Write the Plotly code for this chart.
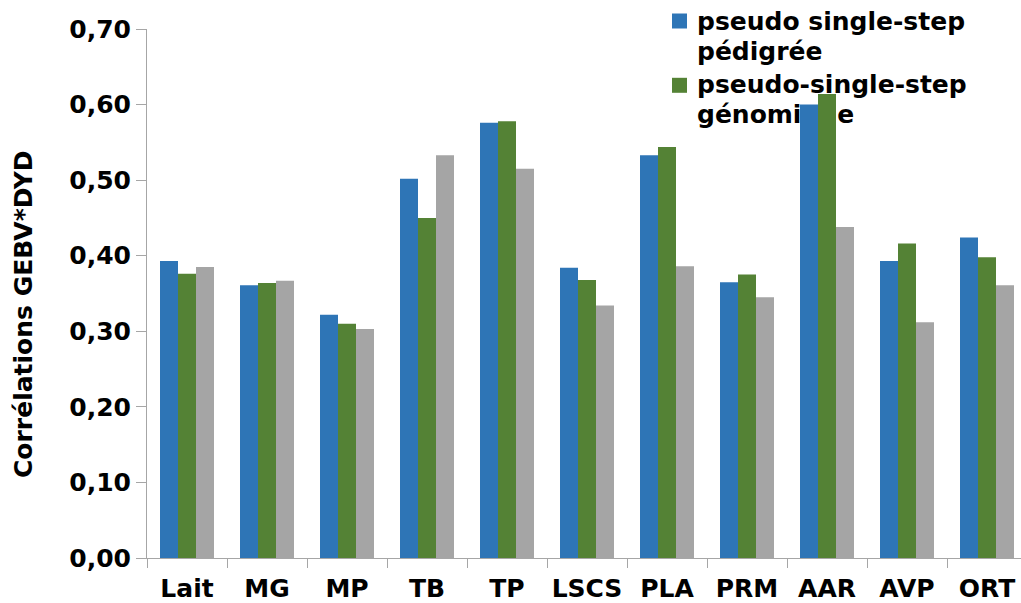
import plotly.graph_objects as go

# Traits evaluated
categories = ["Lait", "MG", "MP", "TB", "TP", "LSCS", "PLA", "PRM", "AAR", "AVP", "ORT"]

# Correlations GEBV*DYD per method
pedigree = [0.393, 0.361, 0.322, 0.502, 0.576, 0.384, 0.533, 0.365, 0.600, 0.393, 0.424]
genomique = [0.376, 0.364, 0.310, 0.450, 0.578, 0.368, 0.544, 0.375, 0.614, 0.416, 0.398]
troisieme = [0.385, 0.367, 0.303, 0.533, 0.515, 0.334, 0.386, 0.345, 0.438, 0.312, 0.361]

series_names = ["pseudo single-step pédigrée", "pseudo-single-step génomique", "troisième série"]
legend_lines = [["pseudo single-step", "pédigrée"], ["pseudo-single-step", "génomique"]]
colors = ["#2E75B6", "#548235", "#A5A5A5"]
y_title = "Corrélations GEBV*DYD"

W, H = 1021, 603
L, R, T, B = 147, 0, 29, 45
PW, PH = W - L - R, H - T - B
FONT = "DejaVu Sans"
FS = 25


def px(x):
    return (x - L) / PW


def py(y):
    return (H - B - y) / PH


fig = go.Figure()
for name, vals, col in zip(series_names, [pedigree, genomique, troisieme], colors):
    fig.add_trace(go.Bar(x=categories, y=vals, name=name, marker=dict(color=col, line=dict(width=0)),
                         showlegend=False))

# Legend drawn beneath the bars: colour squares plus text lines
shapes = []
for i, (lines, col) in enumerate(zip(legend_lines, colors[:2])):
    top = 13.5 + i * 64.3
    shapes.append(dict(type="rect", xref="paper", yref="paper", layer="below",
                       x0=px(672), x1=px(687), y0=py(top), y1=py(top + 15),
                       fillcolor=col, line=dict(width=0)))
    for j, txt in enumerate(lines):
        base = 28.3 + i * 63.6 + j * 30
        shapes.append(dict(type="rect", xref="paper", yref="paper", layer="below",
                           x0=px(691), x1=px(1010), y0=py(base - 24), y1=py(base + 6),
                           fillcolor="rgba(0,0,0,0)", line=dict(width=0),
                           label=dict(text=txt, textposition="middle left", padding=3,
                                      font=dict(family=FONT, size=FS, color="#000000", weight="bold"))))

fig.update_layout(
    width=W, height=H,
    margin=dict(l=L, r=R, t=T, b=B),
    paper_bgcolor="#FFFFFF",
    plot_bgcolor="rgba(0,0,0,0)",
    barmode="group",
    bargap=0.325,
    bargroupgap=0,
    separators=", ",
    font=dict(family=FONT, size=FS, color="#000000", weight="bold"),
    shapes=shapes,
    annotations=[dict(text=y_title, xref="paper", yref="paper", x=px(23), y=py(314),
                      xanchor="center", yanchor="middle", textangle=-90, showarrow=False,
                      font=dict(family=FONT, size=FS, color="#000000", weight="bold"))],
    xaxis=dict(
        range=[-0.5, 10.425],
        tickson="boundaries",
        ticks="outside", ticklen=9, tickcolor="#A6A6A6", tickwidth=1,
        ticklabelstandoff=8,
        showline=True, linecolor="#A6A6A6", linewidth=1,
        showgrid=False, zeroline=False,
        tickfont=dict(family=FONT, size=FS, weight="bold"),
    ),
    yaxis=dict(
        range=[0, 0.7], dtick=0.1, tickformat=".2f",
        ticks="outside", ticklen=10, tickcolor="#A6A6A6", tickwidth=1,
        showline=True, linecolor="#A6A6A6", linewidth=1,
        showgrid=False, zeroline=False,
        tickfont=dict(family=FONT, size=FS, weight="bold"),
        automargin=False,
    ),
)

fig.write_html("out.html")
